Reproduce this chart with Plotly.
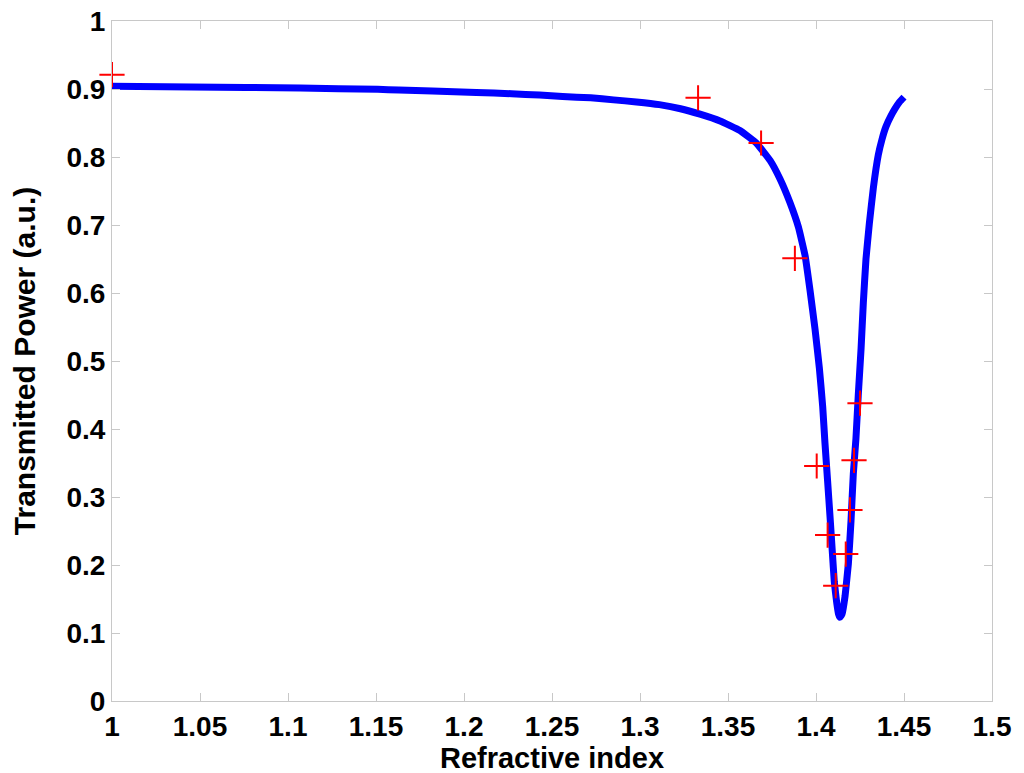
import plotly.graph_objects as go

# Simulated curve (blue)
curve_x = [1.000, 1.045, 1.107, 1.151, 1.163, 1.182, 1.207, 1.227, 1.243, 1.256,
           1.272, 1.285, 1.298, 1.311, 1.323, 1.3341, 1.3455, 1.3568, 1.3663, 1.3739,
           1.3795, 1.3852, 1.3900, 1.3938, 1.3966, 1.3994, 1.4019, 1.4038,
           1.4051, 1.4066, 1.4080, 1.4093, 1.4104, 1.4118, 1.4128, 1.4136, 1.4148,
           1.4165, 1.4184, 1.4199, 1.4212, 1.4227, 1.4240, 1.4256, 1.4269, 1.4284,
           1.4303, 1.4326, 1.4354, 1.4375, 1.4398, 1.4425, 1.4449, 1.4475, 1.4500]
curve_y = [0.904, 0.903, 0.9015, 0.8995, 0.8985, 0.897, 0.895, 0.893, 0.891, 0.889,
           0.887, 0.884, 0.881, 0.877, 0.871, 0.863, 0.853, 0.839, 0.820, 0.795,
           0.768, 0.733, 0.697, 0.655, 0.604, 0.548, 0.490, 0.433,
           0.379, 0.323, 0.270, 0.218, 0.175, 0.144, 0.128, 0.123, 0.128,
           0.154, 0.202, 0.265, 0.334, 0.386, 0.449, 0.518, 0.586, 0.650,
           0.702, 0.755, 0.803, 0.826, 0.845, 0.860, 0.871, 0.881, 0.888]

# Measured points (red crosses)
meas_x = [1.000, 1.333, 1.3688, 1.388, 1.4004, 1.4066, 1.4112, 1.4169, 1.4193, 1.4216, 1.425]
meas_y = [0.921, 0.887, 0.8206, 0.651, 0.3456, 0.244, 0.1696, 0.216, 0.281, 0.354, 0.438]

x_ticks = [1, 1.05, 1.1, 1.15, 1.2, 1.25, 1.3, 1.35, 1.4, 1.45, 1.5]
y_ticks = [0, 0.1, 0.2, 0.3, 0.4, 0.5, 0.6, 0.7, 0.8, 0.9, 1]

FONT = "Liberation Sans, Arial"

fig = go.Figure()
fig.add_trace(go.Scatter(
    x=curve_x, y=curve_y, mode="lines",
    line=dict(color="#0000ff", width=7, shape="spline", smoothing=0.3),
    showlegend=False, cliponaxis=False,
))
fig.add_trace(go.Scatter(
    x=meas_x, y=meas_y, mode="markers",
    marker=dict(symbol="cross-thin", size=18, line=dict(color="#ff0000", width=2)),
    showlegend=False, cliponaxis=False,
))

axis_common = dict(
    showgrid=False, zeroline=False, showline=True, linecolor="#c8c8c8", linewidth=1,
    mirror="ticks", ticks="inside", ticklen=8, tickcolor="#c8c8c8",
    automargin=False, ticklabelstandoff=0, ticklabeloverflow="allow",
    tickfont=dict(family=FONT, size=28, color="black", weight="bold"),
)
fig.update_xaxes(range=[1, 1.5], tickvals=x_ticks,
                 ticktext=[f"{v:g}" for v in x_ticks],
                 title=dict(text="Refractive index", standoff=4,
                            font=dict(family=FONT, size=29, color="black", weight="bold")),
                 **axis_common)
fig.update_yaxes(range=[0, 1], tickvals=y_ticks,
                 ticktext=[f"{v:g}" for v in y_ticks],
                 title=dict(text="Transmitted Power (a.u.)", standoff=29,
                            font=dict(family=FONT, size=30, color="black", weight="bold")),
                 **axis_common)
fig.update_layout(
    width=1024, height=773,
    margin=dict(l=104, r=40, t=13, b=80),
    paper_bgcolor="white", plot_bgcolor="white",
)
fig.write_html("out.html")
